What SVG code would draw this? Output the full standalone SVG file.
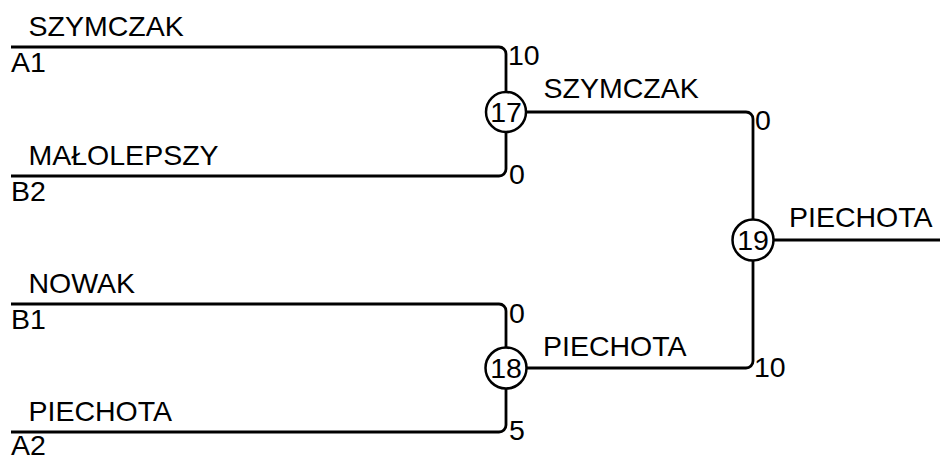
<svg xmlns="http://www.w3.org/2000/svg" width="940" height="457" viewBox="0 0 940 457">
<style>
.ln{fill:none;stroke:#000;stroke-width:2.8}
.nd{fill:#fff;stroke:#000;stroke-width:2.5}
text{font-family:"Liberation Sans",Arial,sans-serif;font-size:28.5px;fill:#000}
.c{text-anchor:middle}
</style>
<rect width="940" height="457" fill="#fff"/>
<g id="connectors">
<path class="ln" d="M11,47 H499 A7,7 0 0 1 506,54 V92"/>
<path class="ln" d="M11,176 H499 A7,7 0 0 0 506,169 V132"/>
<path class="ln" d="M11,304 H499 A7,7 0 0 1 506,311 V348"/>
<path class="ln" d="M11,432 H499 A7,7 0 0 0 506,425 V389"/>
<path class="ln" d="M526,112 H746 A7,7 0 0 1 753,119 V219"/>
<path class="ln" d="M527,368 H746 A7,7 0 0 0 753,361 V261"/>
<path class="ln" d="M774,240 H940"/>
</g>
<g id="seed-A1"><text x="28.5" y="36">SZYMCZAK</text><text x="11" y="72">A1</text></g>
<g id="seed-B2"><text x="28.5" y="165">MAŁOLEPSZY</text><text x="11" y="201">B2</text></g>
<g id="seed-B1"><text x="28.5" y="293">NOWAK</text><text x="11" y="329">B1</text></g>
<g id="seed-A2"><text x="28.5" y="421">PIECHOTA</text><text x="11" y="455">A2</text></g>
<g id="node17">
<circle class="nd" cx="506" cy="112" r="20"/>
<text class="c" x="506" y="122">17</text>
<text x="508" y="65">10</text>
<text x="509" y="184">0</text>
<text x="543.5" y="98">SZYMCZAK</text>
</g>
<g id="node18">
<circle class="nd" cx="506" cy="368" r="20.5"/>
<text class="c" x="506" y="378">18</text>
<text x="509" y="323">0</text>
<text x="509" y="440">5</text>
<text x="543" y="356">PIECHOTA</text>
</g>
<g id="node19">
<circle class="nd" cx="753" cy="240" r="20.5"/>
<text class="c" x="753" y="250">19</text>
<text x="755" y="130">0</text>
<text x="754" y="377">10</text>
<text x="789" y="227">PIECHOTA</text>
</g>
</svg>
